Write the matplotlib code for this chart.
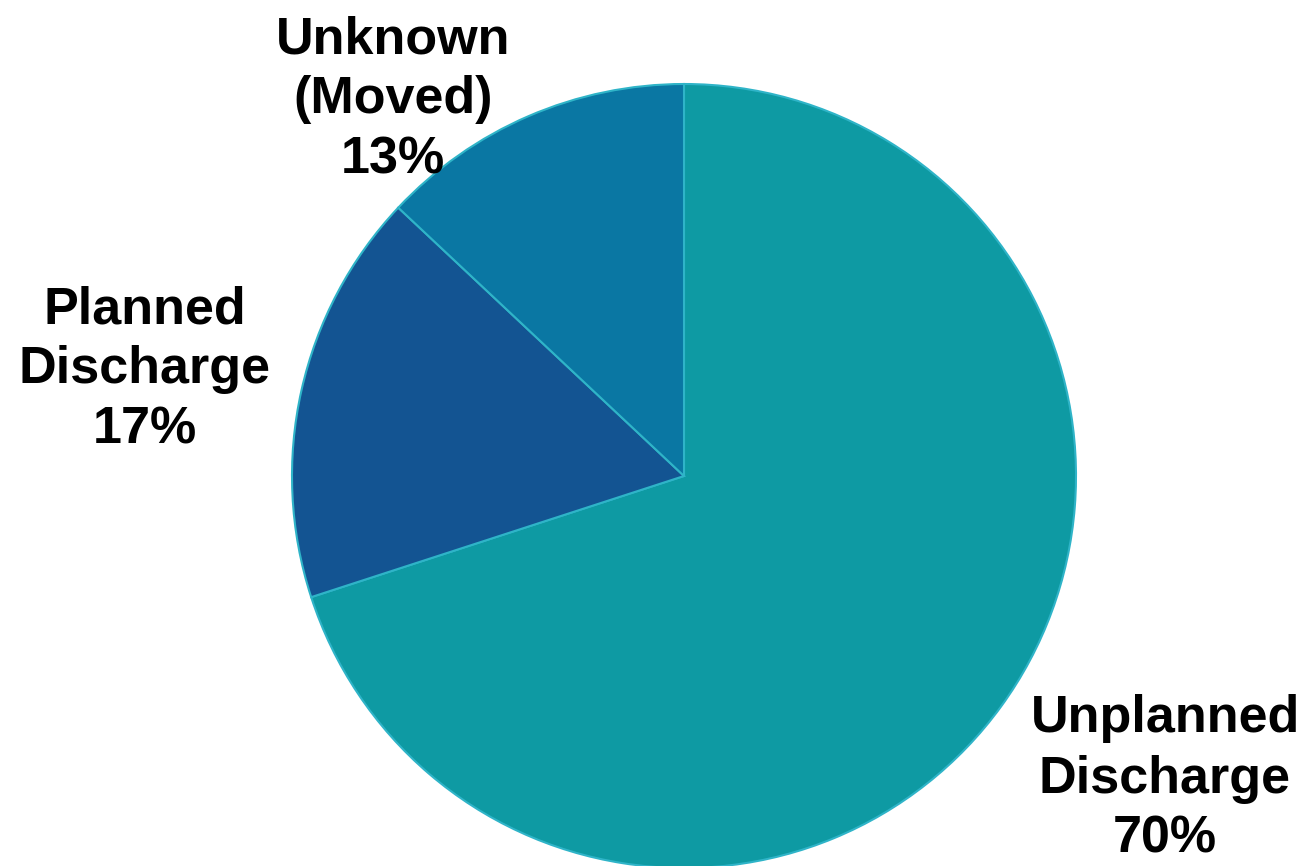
import matplotlib
matplotlib.use("Agg")
import matplotlib.pyplot as plt

categories = ["Unplanned\nDischarge", "Planned\nDischarge", "Unknown\n(Moved)"]
values = [70, 17, 13]
colors = ["#0E9AA3", "#135492", "#0A77A3"]

W, H = 1305, 866
fig = plt.figure(figsize=(W / 100, H / 100), dpi=100)
ax = fig.add_axes([0, 0, 1, 1])
ax.set_xlim(0, W)
ax.set_ylim(0, H)

cx, cy, r = 684, H - 476, 392
wedges, _ = ax.pie(values, colors=colors, startangle=90, counterclock=False,
                   center=(cx, cy), radius=r, frame=True,
                   wedgeprops=dict(edgecolor="#2FB4C8", linewidth=1.5))
ax.set_xlim(0, W)
ax.set_ylim(0, H)
ax.axis("off")

label_pos = [(1165, H - 779), (145, H - 370), (393, H - 100)]
for cat, v, (x, y) in zip(categories, values, label_pos):
    ax.text(x, y, f"{cat}\n{v}%", ha="center", va="center", fontsize=37.5,
            fontweight="bold", family="Liberation Sans", linespacing=1.30,
            color="black")

fig.savefig("out.png", dpi=100)
